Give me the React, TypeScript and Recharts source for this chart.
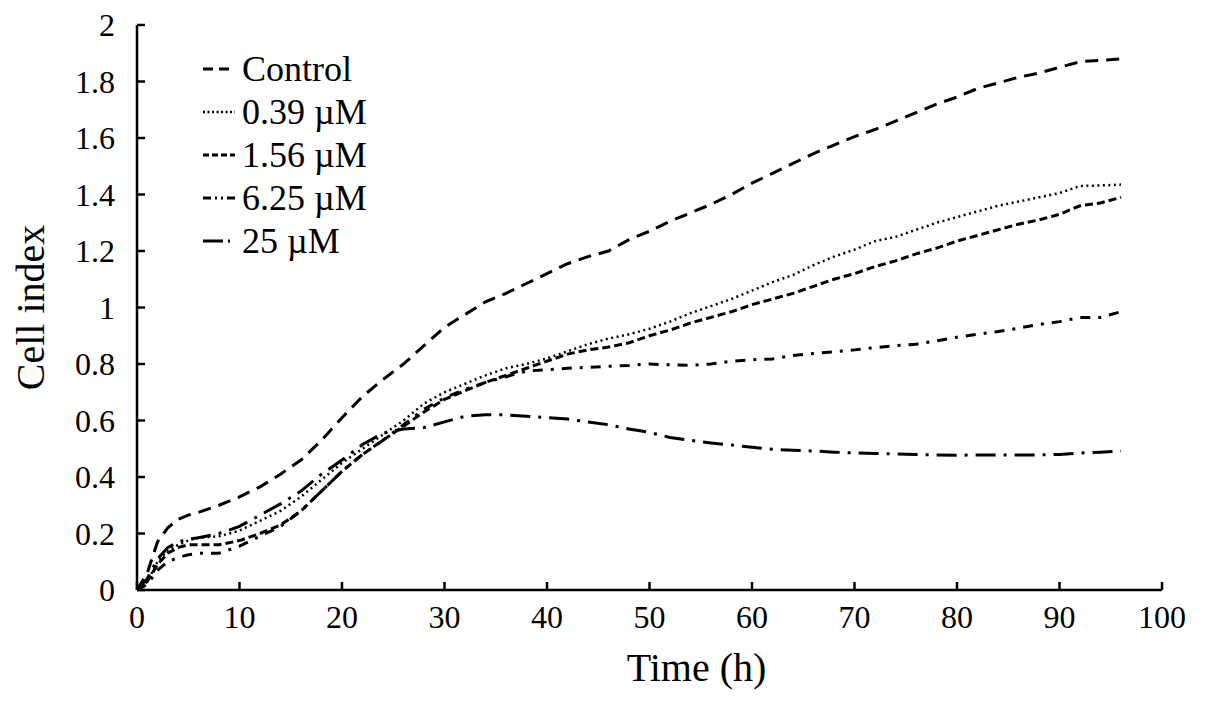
import { LineChart, Line, XAxis, YAxis, Legend } from "recharts";

// sampling times (h)
const times = [
  0, 1, 2, 3, 4, 5, 6, 8, 10, 12, 14, 16, 18, 20, 22, 24, 26, 28, 30, 32, 34, 36, 38, 40, 42, 44, 46, 48,
  50, 52, 54, 56, 58, 60, 62, 64, 66, 68, 70, 72, 74, 76, 78, 80, 82, 84, 86, 88, 90, 92, 94, 96,
];

const control = [
  0, 0.06, 0.17, 0.22, 0.25, 0.265, 0.275, 0.3, 0.33, 0.365, 0.41, 0.46, 0.53, 0.61, 0.685, 0.745, 0.8, 0.865,
  0.93, 0.975, 1.02, 1.05, 1.085, 1.12, 1.155, 1.18, 1.2, 1.24, 1.27, 1.305, 1.335, 1.365, 1.4, 1.44, 1.475, 1.51,
  1.545, 1.575, 1.605, 1.63, 1.66, 1.69, 1.72, 1.745, 1.775, 1.795, 1.815, 1.83, 1.85, 1.87, 1.875, 1.88,
];

const um039 = [
  0, 0.03, 0.1, 0.14, 0.16, 0.175, 0.185, 0.19, 0.21, 0.245, 0.28, 0.33, 0.39, 0.45, 0.5, 0.55, 0.6, 0.66, 0.7,
  0.73, 0.76, 0.785, 0.8, 0.82, 0.845, 0.87, 0.89, 0.905, 0.925, 0.95, 0.98, 1.005, 1.03, 1.06, 1.09, 1.115, 1.15,
  1.18, 1.205, 1.235, 1.25, 1.275, 1.3, 1.32, 1.34, 1.36, 1.375, 1.39, 1.405, 1.43, 1.432, 1.435,
];

const um156 = [
  0, 0.03, 0.09, 0.13, 0.15, 0.16, 0.16, 0.16, 0.175, 0.2, 0.23, 0.28, 0.35, 0.42, 0.48, 0.53, 0.58, 0.63, 0.675,
  0.705, 0.735, 0.76, 0.785, 0.81, 0.835, 0.85, 0.86, 0.875, 0.9, 0.92, 0.945, 0.965, 0.985, 1.01, 1.03, 1.05,
  1.075, 1.1, 1.12, 1.145, 1.165, 1.19, 1.21, 1.235, 1.255, 1.275, 1.295, 1.31, 1.33, 1.36, 1.37, 1.39,
];

const um625 = [
  0, 0.02, 0.07, 0.1, 0.115, 0.125, 0.13, 0.13, 0.155, 0.19, 0.225, 0.28, 0.35, 0.42, 0.48, 0.53, 0.585, 0.64,
  0.68, 0.71, 0.735, 0.755, 0.775, 0.78, 0.785, 0.788, 0.792, 0.795, 0.8, 0.797, 0.795, 0.8, 0.81, 0.815, 0.818,
  0.83, 0.837, 0.843, 0.85, 0.858, 0.865, 0.87, 0.882, 0.895, 0.905, 0.915, 0.927, 0.94, 0.95, 0.965, 0.965, 0.985,
];

const um25 = [
  0, 0.04, 0.11, 0.15, 0.17, 0.18, 0.185, 0.2, 0.225, 0.265, 0.305, 0.35, 0.41, 0.46, 0.515, 0.555, 0.57, 0.575,
  0.595, 0.615, 0.62, 0.62, 0.615, 0.61, 0.605, 0.595, 0.585, 0.57, 0.558, 0.54, 0.53, 0.52, 0.513, 0.505, 0.498,
  0.495, 0.492, 0.488, 0.485, 0.483, 0.482, 0.48, 0.478, 0.477, 0.478, 0.478, 0.478, 0.478, 0.48, 0.485, 0.488, 0.492,
];

const xTicks = [0, 10, 20, 30, 40, 50, 60, 70, 80, 90, 100];
const yTicks = [0, 0.2, 0.4, 0.6, 0.8, 1, 1.2, 1.4, 1.6, 1.8, 2];

const data = times.map((t, i) => ({
  t,
  control: control[i],
  um039: um039[i],
  um156: um156[i],
  um625: um625[i],
  um25: um25[i],
}));

const FONT = "Liberation Serif";

const series = [
  { key: "control", name: "Control", dash: "13 8", legendDash: "10 6", width: 3 },
  { key: "um039", name: "0.39 µM", dash: "2 3.5", legendDash: "2 2.5", width: 2.5 },
  { key: "um156", name: "1.56 µM", dash: "8 4", legendDash: "6 3", width: 3 },
  { key: "um625", name: "6.25 µM", dash: "10 8 3 8", legendDash: "8 4 2 4 2 4", width: 3 },
  { key: "um25", name: "25 µM", dash: "20 8 3 8", legendDash: "20 5 2 5", width: 3 },
];

function YTick({ x, y, payload }: any) {
  return (
    <g>
      <line x1={x} x2={x + 8} y1={y} y2={y} stroke="#000" strokeWidth={2.5} />
      <text
        x={x - 22}
        y={y + 11}
        textAnchor="end"
        fontFamily={FONT}
        fontSize={32}
        fill="#000"
        style={{ fontFamily: FONT }}
      >
        {String(payload.value)}
      </text>
    </g>
  );
}

function XTick({ x, y, payload }: any) {
  return (
    <g>
      <line x1={x} x2={x} y1={y} y2={y - 8} stroke="#000" strokeWidth={2.5} />
      <text
        x={x}
        y={y + 38}
        textAnchor="middle"
        fontFamily={FONT}
        fontSize={32}
        fill="#000"
        style={{ fontFamily: FONT }}
      >
        {String(payload.value)}
      </text>
    </g>
  );
}

function LegendBox() {
  return (
    <svg width={230} height={220} style={{ fontFamily: FONT }}>
      {series.map((s, i) => {
        const cy = 21 + i * 43;
        return (
          <g key={s.key}>
            <line x1={0} x2={32} y1={cy} y2={cy} stroke="#000" strokeWidth={s.width} strokeDasharray={s.legendDash} />
            <text x={39} y={cy + 12} fontFamily={FONT} fontSize={36} fill="#000" style={{ fontFamily: FONT }}>
              {s.name}
            </text>
          </g>
        );
      })}
    </svg>
  );
}

export default function App() {
  return (
    <div style={{ width: 1190, height: 690, background: "#fff", fontFamily: FONT }}>
      <LineChart width={1190} height={690} data={data} margin={{ top: 17, right: 36, left: 0, bottom: 18 }}>
        <XAxis
          dataKey="t"
          type="number"
          domain={[0, 100]}
          ticks={xTicks}
          height={90}
          tickSize={0}
          tickMargin={0}
          tickLine={false}
          tick={<XTick />}
          axisLine={{ stroke: "#000", strokeWidth: 2.5 }}
          label={(p: any) => (
            <text
              x={p.viewBox.x + p.viewBox.width / 2 + 47}
              y={p.viewBox.y + 91}
              textAnchor="middle"
              fontFamily={FONT}
              fontSize={40}
              fill="#000"
            >
              Time (h)
            </text>
          )}
        />
        <YAxis
          type="number"
          domain={[0, 2]}
          ticks={yTicks}
          width={129}
          tickSize={0}
          tickMargin={0}
          tickLine={false}
          tick={<YTick />}
          axisLine={{ stroke: "#000", strokeWidth: 2.5 }}
          label={{
            value: "Cell index",
            angle: -90,
            position: "insideLeft",
            offset: 22,
            style: { textAnchor: "middle", fontFamily: FONT, fontSize: 40, fill: "#000" },
          }}
        />
        <Legend
          layout="vertical"
          align="center"
          verticalAlign="middle"
          content={<LegendBox />}
          wrapperStyle={{ left: 195, top: 40, width: 230, height: 220 }}
        />
        {series.map((s) => (
          <Line
            key={s.key}
            type="linear"
            dataKey={s.key}
            name={s.name}
            stroke="#000"
            strokeWidth={s.width}
            strokeDasharray={s.dash}
            dot={false}
            activeDot={false}
            isAnimationActive={false}
          />
        ))}
      </LineChart>
    </div>
  );
}
